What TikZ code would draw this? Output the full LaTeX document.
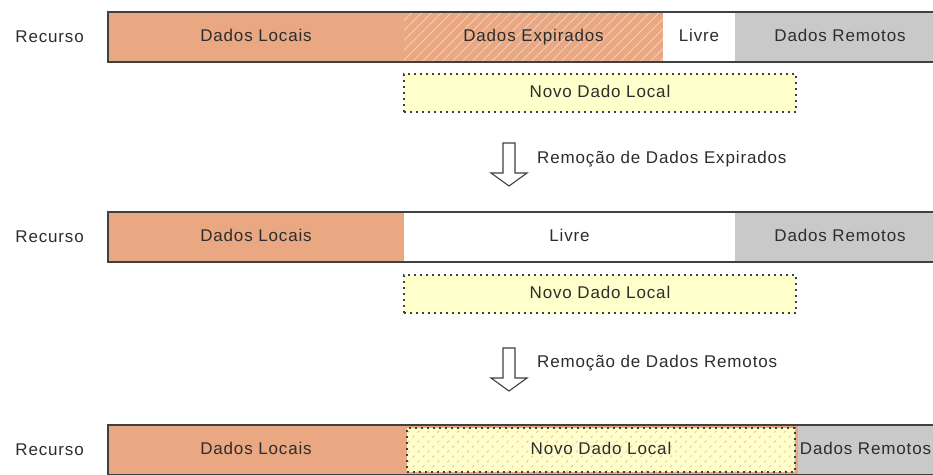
\documentclass[tikz,border=0pt]{standalone}
\usepackage{fontspec}
\setmainfont[LetterSpace=5]{Liberation Sans}
\usetikzlibrary{positioning,calc,patterns.meta}
\definecolor{locfill}{RGB}{233,167,130}
\definecolor{remfill}{RGB}{201,201,201}
\definecolor{novofill}{RGB}{255,255,204}
\definecolor{linecol}{RGB}{64,64,64}
\definecolor{txtcol}{RGB}{45,45,45}
\newcommand{\diagfont}{\fontsize{17}{20}\selectfont}
\tikzset{seg/.style={rectangle, minimum height=50pt, inner sep=0pt, outer sep=0pt, text height=12pt, text depth=3.5pt, text=txtcol, font=\diagfont}}
\tikzstyle{locais}=[seg, fill=locfill, minimum width=296pt]
\tikzstyle{expir}=[seg, fill=locfill, postaction={pattern={Lines[angle=45,distance=7pt,line width=0.7pt]}, pattern color=white!55!locfill}]
\tikzstyle{livre}=[seg, fill=white]
\tikzstyle{remotos}=[seg, fill=remfill]
\tikzstyle{novo}=[seg, minimum height=38pt, minimum width=392pt, fill=novofill, draw=linecol, line width=1.6pt, dash pattern=on 1.6pt off 4.4pt]
\tikzstyle{rotulo}=[text=txtcol, font=\diagfont, inner sep=0pt]
\tikzstyle{barra}=[draw=linecol, line width=1.8pt]
\tikzstyle{seta}=[draw=linecol, line width=1.1pt, fill=white, line join=miter]

\begin{document}
\begin{tikzpicture}[x=1pt, y=-1pt]
\clip (0,0) rectangle (933,474);
% first state
\node[locais] (loc1) at (256,37) {Dados Locais};
\node[expir, minimum width=259pt][right=0pt of loc1] (exp1) {Dados Expirados};
\node[livre, minimum width=72pt][right=0pt of exp1] (liv1) {Livre};
\node[remotos, minimum width=210pt][right=0pt of liv1] (rem1) {Dados Remotos};
\draw[barra] (loc1.north west) rectangle (rem1.south east);
\node[rotulo][left=24pt of loc1] (rec1) {Recurso};
\node[novo][below right=12pt and 0pt of exp1.south west] (novo1) {Novo Dado Local};
% removal of expired data
\coordinate (a1) at (509,143);
\draw[seta] (a1) ++(-6,0) -- ++(0,30) -- ++(-12,0) -- ++(18,13) -- ++(18,-13) -- ++(-12,0) -- ++(0,-30) -- cycle;
\node[rotulo, anchor=west] (rm1) at (537,159) {Remoção de Dados Expirados};
% second state
\node[locais] (loc2) at (256,237) {Dados Locais};
\node[livre, minimum width=331pt][right=0pt of loc2] (liv2) {Livre};
\node[remotos, minimum width=210pt][right=0pt of liv2] (rem2) {Dados Remotos};
\draw[barra] (loc2.north west) rectangle (rem2.south east);
\node[rotulo][left=24pt of loc2] (rec2) {Recurso};
\node[novo][below right=13pt and 0pt of liv2.south west] (novo2) {Novo Dado Local};
% removal of remote data
\coordinate (a2) at (509,348);
\draw[seta] (a2) ++(-6,0) -- ++(0,30) -- ++(-12,0) -- ++(18,13) -- ++(18,-13) -- ++(-12,0) -- ++(0,-30) -- cycle;
\node[rotulo, anchor=west] (rm2) at (537,363) {Remoção de Dados Remotos};
% third state
\node[locais] (loc3) at (256,450) {Dados Locais};
\node[novo, minimum width=388pt, minimum height=44pt,
  preaction={draw=locfill, line width=6pt, solid},
  preaction={fill=novofill},
  preaction={pattern={Lines[angle=45,distance=7pt,line width=0.8pt]}, pattern color=locfill!75!novofill},
  fill=none][right=3pt of loc3] (novo3) {Novo Dado Local};
\node[remotos, minimum width=135pt][right=3pt of novo3] (rem3) {Dados Remotos};
\fill[remfill] (rem3.north east) rectangle ($(rem3.south east)+(15,0)$);
\draw[barra] (loc3.north west) rectangle ($(rem3.south east)+(15,0)$);
\node[rotulo][left=24pt of loc3] (rec3) {Recurso};
\end{tikzpicture}
\end{document}
